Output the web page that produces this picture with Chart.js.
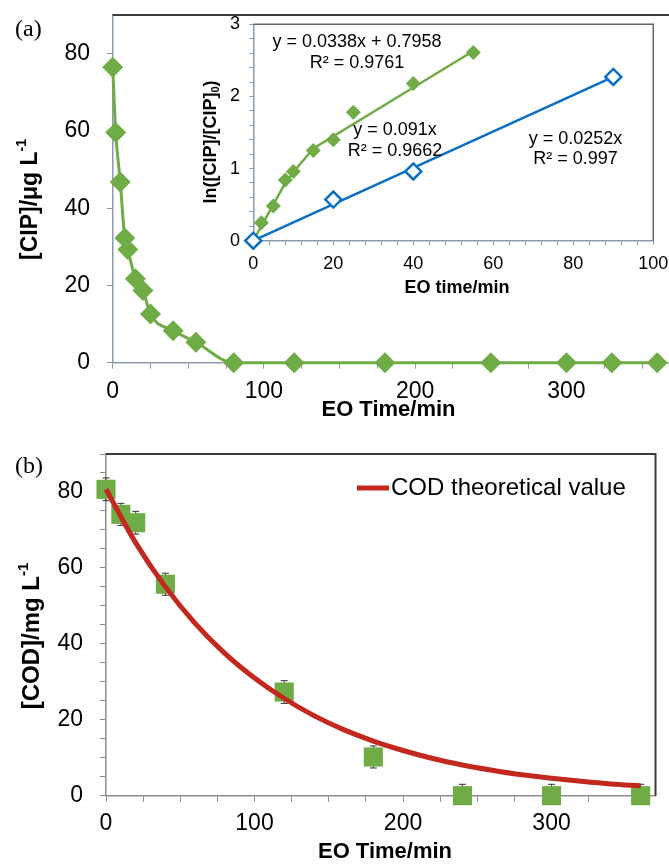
<!DOCTYPE html>
<html>
<head>
<meta charset="utf-8">
<title>CIP and COD removal during EO</title>
<script src="https://cdn.jsdelivr.net/npm/chart.js@4.4.1/dist/chart.umd.min.js"></script>
<style>
  html, body { margin: 0; padding: 0; background: #fff; }
  body { width: 669px; height: 864px; overflow: hidden; position: relative; }
  canvas { position: absolute; }
</style>
</head>
<body>
<canvas id="chartA" width="745" height="420" style="left:0;top:0"></canvas>
<canvas id="chartInset" width="469" height="310" style="left:200px;top:0"></canvas>
<canvas id="chartB" width="669" height="434" style="left:0;top:430px"></canvas>
<script>
// (a) CIP concentration during EO
const cipTime = [0, 2, 5, 8, 10, 15, 20, 25, 40, 55, 80, 120, 180, 250, 300, 330, 360];
const cipConc = [76.5, 59.6, 46.8, 32.3, 29.3, 21.7, 18.7, 12.6, 8.3, 5.3, 0, 0, 0, 0, 0, 0, 0];

// (a) inset: ln([CIP]/[CIP]0) vs time
const greenTime = [2, 5, 8, 10, 15, 20, 25, 40, 55];
const greenLn = [0.25, 0.48, 0.84, 0.96, 1.25, 1.40, 1.78, 2.18, 2.61];
const greenFitTime = [0, 8, 10, 15, 55];
const greenFitLn = [0, 0.80, 0.95, 1.28, 2.63];
const blueTime = [0, 20, 40, 90];
const blueLn = [0, 0.57, 0.96, 2.27];
const blueFitTime = [0, 90];
const blueFitLn = [0, 2.27];

// (b) COD during EO
const codTime = [0, 10, 20, 40, 120, 180, 240, 300, 360];
const codValue = [80.7, 74.1, 71.9, 55.7, 27.3, 10.2, 0, 0, 0];
const codError = [3, 2.9, 3, 2.9, 3, 2.9, 3, 3, 3];
const codFitTime = [0, 20, 40, 60, 80, 100, 120, 140, 160, 180, 200, 220, 240, 260, 280, 300, 320, 340, 360];
const codFitValue = [80.7, 66.6, 55.0, 45.4, 37.5, 31.0, 25.6, 21.1, 17.4, 14.4, 11.9, 9.8, 8.1, 6.7, 5.5, 4.6, 3.8, 3.1, 2.6];

const SANS = "'Liberation Sans', Arial, sans-serif";
const SERIF = "'Liberation Serif', 'Times New Roman', serif";
const GREEN = '#6fac46';
const BLUE = '#0a6fc2';
const RED = '#c3281e';
const AXIS = '#8a9bab';

function pts(xs, ys) {
    return xs.map((x, i) => ({x: x, y: ys[i]}));
}

function fontFor(it, p) {
    const size = (p.sup || p.sub) ? Math.round(it.size * 0.62) : it.size;
    return (it.bold ? 'bold ' : '') + size + 'px ' + (it.family || SANS);
}

// text with optional super/subscript parts
function drawRich(ctx, it) {
    ctx.save();
    ctx.translate(it.x, it.y);
    if (it.rotate) ctx.rotate(it.rotate);
    ctx.fillStyle = '#000';
    ctx.textBaseline = 'middle';
    ctx.textAlign = 'left';
    let total = 0;
    const widths = it.parts.map(p => {
        ctx.font = fontFor(it, p);
        const w = ctx.measureText(p.t).width;
        total += w;
        return w;
    });
    let cx = it.align === 'left' ? 0 : -total / 2;
    it.parts.forEach((p, i) => {
        ctx.font = fontFor(it, p);
        const dy = p.sup ? -it.size * 0.36 : (p.sub ? it.size * 0.3 : 0);
        ctx.fillText(p.t, cx, dy);
        cx += widths[i];
    });
    ctx.restore();
}

function textPlugin(items, extra) {
    return {
        id: 'texts',
        afterDraw(chart) {
            const ctx = chart.ctx;
            if (extra) extra(chart, ctx);
            items.forEach(it => drawRich(ctx, it));
        }
    };
}

// top / right frame lines of the plot box
const framePlugin = {
    id: 'frame',
    beforeDatasetsDraw(chart, args, opts) {
        const a = chart.chartArea;
        const ctx = chart.ctx;
        ctx.save();
        ctx.strokeStyle = opts.color;
        ctx.lineWidth = opts.width;
        ctx.beginPath();
        ctx.moveTo(a.left, a.top);
        ctx.lineTo(a.right, a.top);
        ctx.lineTo(a.right, a.bottom);
        ctx.stroke();
        ctx.restore();
    }
};

// vertical error bars with caps
const errorBarPlugin = {
    id: 'errorBars',
    beforeDatasetsDraw(chart) {
        const xs = chart.scales.x, ys = chart.scales.y;
        const a = chart.chartArea;
        const ctx = chart.ctx;
        ctx.save();
        ctx.beginPath();
        ctx.rect(a.left - 20, a.top - 20, a.right - a.left + 40, a.bottom - a.top + 20);
        ctx.clip();
        ctx.strokeStyle = '#333';
        ctx.lineWidth = 1;
        codTime.forEach((t, i) => {
            const x = xs.getPixelForValue(t);
            const y1 = ys.getPixelForValue(codValue[i] + codError[i]);
            const y2 = ys.getPixelForValue(codValue[i] - codError[i]);
            ctx.beginPath();
            ctx.moveTo(x, y1); ctx.lineTo(x, y2);
            ctx.moveTo(x - 3.5, y1); ctx.lineTo(x + 3.5, y1);
            ctx.moveTo(x - 3.5, y2); ctx.lineTo(x + 3.5, y2);
            ctx.stroke();
        });
        ctx.restore();
    }
};

function axis(opts) {
    return {
        type: 'linear',
        min: opts.min, max: opts.max,
        ticks: {
            stepSize: opts.step,
            maxTicksLimit: 1000,
            autoSkip: false,
            maxRotation: 0,
            minRotation: 0,
            padding: opts.pad,
            color: '#000',
            font: {family: SANS, size: opts.size},
            callback: opts.label
        },
        grid: {drawOnChartArea: false, drawTicks: true, tickLength: opts.tick, color: opts.color, tickColor: opts.color},
        border: {display: true, color: opts.color, width: 1.5},
        afterFit: s => {
            // fixed box size, no extra label overhang padding
            if (opts.w) s.width = opts.w;
            if (opts.h) s.height = opts.h;
            s.paddingLeft = 0; s.paddingRight = 0;
            s.paddingTop = 0; s.paddingBottom = 0;
        }
    };
}

// ---------- (a) ----------
new Chart(document.getElementById('chartA'), {
    type: 'scatter',
    data: {
        datasets: [{
            data: pts(cipTime, cipConc),
            showLine: true,
            borderColor: GREEN,
            borderWidth: 3,
            backgroundColor: GREEN,
            pointStyle: 'rectRot',
            pointRadius: 10.5,
            pointBorderWidth: 0,
            cubicInterpolationMode: 'monotone',
            clip: false
        }]
    },
    options: {
        responsive: false,
        animation: false,
        events: [],
        layout: {padding: {left: 0, top: 15, right: 24.3, bottom: 0}},
        plugins: {
            legend: {display: false},
            tooltip: {enabled: false},
            frame: {color: '#3c3c3c', width: 2}
        },
        scales: {
            x: axis({min: 0, max: 402, step: 25, pad: 9.5, size: 23, tick: 6, color: AXIS, h: 57.3,
                label: v => v % 100 === 0 ? v : (v % 25 === 0 ? '' : null)}),
            y: axis({min: 0, max: 90, step: 10, pad: 16.7, size: 23, tick: 6, color: AXIS, w: 112.7,
                label: v => v % 20 === 0 ? v : null})
        }
    },
    plugins: [framePlugin, textPlugin([
        {x: 15, y: 30, size: 24, family: SERIF, align: 'left', parts: [{t: '(a)'}]},
        {x: 30.5, y: 199.5, size: 23, bold: true, rotate: -Math.PI / 2,
            parts: [{t: '[CIP]/\u03bcg L'}, {t: '-1', sup: true}]},
        {x: 388.5, y: 410, size: 22, bold: true, parts: [{t: 'EO Time/min'}]}
    ])]
});

// ---------- (a) inset ----------
new Chart(document.getElementById('chartInset'), {
    type: 'scatter',
    data: {
        datasets: [
            {
                data: pts(blueTime, blueLn),
                showLine: false,
                borderColor: BLUE,
                backgroundColor: '#fff',
                pointStyle: 'rectRot',
                pointRadius: 8,
                pointBorderWidth: 2.5,
                clip: false
            },
            {
                data: pts(blueFitTime, blueFitLn),
                showLine: true,
                borderColor: BLUE,
                borderWidth: 2.5,
                pointRadius: 0,
                clip: false
            },
            {
                data: pts(greenTime, greenLn),
                showLine: false,
                backgroundColor: GREEN,
                borderColor: GREEN,
                pointStyle: 'rectRot',
                pointRadius: 7.5,
                pointBorderWidth: 0,
                clip: false
            },
            {
                data: pts(greenFitTime, greenFitLn),
                showLine: true,
                borderColor: GREEN,
                borderWidth: 2.5,
                pointRadius: 0,
                clip: false
            }
        ]
    },
    options: {
        responsive: false,
        animation: false,
        events: [],
        layout: {padding: {left: 0, top: 24.3, right: 15.7, bottom: 0}},
        plugins: {
            legend: {display: false},
            tooltip: {enabled: false},
            frame: {color: '#666', width: 1.5}
        },
        scales: {
            x: axis({min: 0, max: 100, step: 4, pad: 8.5, size: 18, tick: 4, color: AXIS, h: 69.3,
                label: v => v % 20 === 0 ? v : ''}),
            y: axis({min: 0, max: 3, step: 0.2, pad: 9.3, size: 18, tick: 4, color: AXIS, w: 53.3,
                label: v => Number.isInteger(v) ? v : ''})
        }
    },
    plugins: [framePlugin, textPlugin([
        {x: 11, y: 142, size: 18, bold: true, rotate: -Math.PI / 2,
            parts: [{t: 'ln([CIP]/[CIP]'}, {t: '0', sub: true}, {t: ')'}]},
        {x: 257, y: 288, size: 18, bold: true, parts: [{t: 'EO time/min'}]},
        {x: 157, y: 42, size: 18, parts: [{t: 'y = 0.0338x + 0.7958'}]},
        {x: 157, y: 63, size: 18, parts: [{t: 'R\u00b2 = 0.9761'}]},
        {x: 195, y: 130, size: 18, parts: [{t: 'y = 0.091x'}]},
        {x: 195, y: 151, size: 18, parts: [{t: 'R\u00b2 = 0.9662'}]},
        {x: 375.5, y: 139.5, size: 18, parts: [{t: 'y = 0.0252x'}]},
        {x: 375.5, y: 159.5, size: 18, parts: [{t: 'R\u00b2 = 0.997'}]}
    ])]
});

// ---------- (b) ----------
new Chart(document.getElementById('chartB'), {
    type: 'scatter',
    data: {
        datasets: [
            {
                data: pts(codFitTime, codFitValue),
                showLine: true,
                borderColor: RED,
                borderWidth: 5,
                pointRadius: 0,
                cubicInterpolationMode: 'monotone',
                clip: false
            },
            {
                data: pts(codTime, codValue),
                showLine: false,
                backgroundColor: GREEN,
                borderColor: GREEN,
                pointStyle: 'rect',
                pointRadius: 13.5,
                pointBorderWidth: 0,
                clip: false
            }
        ]
    },
    options: {
        responsive: false,
        animation: false,
        events: [],
        layout: {padding: {left: 0, top: 24, right: 3, bottom: 0}},
        plugins: {
            legend: {display: false},
            tooltip: {enabled: false},
            frame: {color: '#3c3c3c', width: 2}
        },
        scales: {
            x: axis({min: 0, max: 370, step: 25, pad: 8.5, size: 23, tick: 6, color: '#8c8c8c', h: 68.3,
                label: v => v % 100 === 0 ? v : (v % 25 === 0 ? '' : null)}),
            y: axis({min: 0, max: 90, step: 5, pad: 17, size: 23, tick: 6, color: '#8c8c8c', w: 106,
                label: v => v % 20 === 0 ? v : ''})
        }
    },
    plugins: [framePlugin, errorBarPlugin, textPlugin([
        {x: 15, y: 37, size: 24, family: SERIF, align: 'left', parts: [{t: '(b)'}]},
        {x: 32, y: 206, size: 24, bold: true, rotate: -Math.PI / 2,
            parts: [{t: '[COD]/mg L'}, {t: '-1', sup: true}]},
        {x: 385, y: 422, size: 22, bold: true, parts: [{t: 'EO Time/min'}]},
        {x: 391, y: 58, size: 24, align: 'left', parts: [{t: 'COD theoretical value'}]}
    ], (chart, ctx) => {
        // legend sample line
        ctx.save();
        ctx.strokeStyle = RED;
        ctx.lineWidth = 5;
        ctx.beginPath();
        ctx.moveTo(357, 58);
        ctx.lineTo(389, 58);
        ctx.stroke();
        ctx.restore();
    })]
});
</script>
</body>
</html>
